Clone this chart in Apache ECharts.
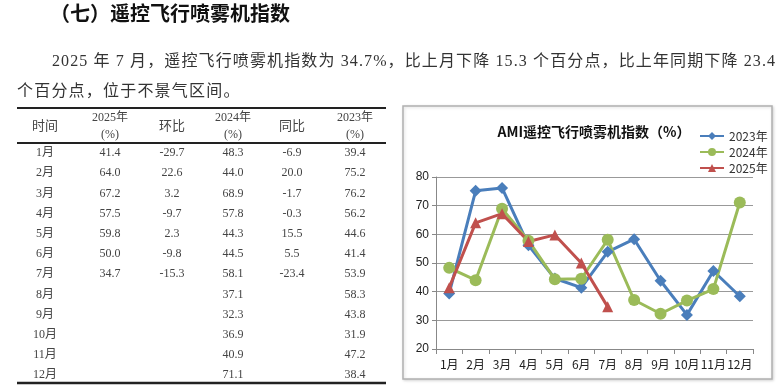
<!DOCTYPE html>
<html><head><meta charset="utf-8">
<script src="https://cdn.jsdelivr.net/npm/echarts@6/dist/echarts.min.js"></script>
<style>html,body{margin:0;padding:0;background:#fff}#c{width:780px;height:391px}</style>
</head><body><div id="c"></div>
<script>
const months = ['1月','2月','3月','4月','5月','6月','7月','8月','9月','10月','11月','12月'];
const v2023 = [39.4,75.2,76.2,56.2,44.6,41.4,53.9,58.3,43.8,31.9,47.2,38.4];
const v2024 = [48.3,44.0,68.9,57.8,44.3,44.5,58.1,37.1,32.3,36.9,40.9,71.1];
const v2025 = [41.4,64.0,67.2,57.5,59.8,50.0,34.7];
const mom = ['-29.7','22.6','3.2','-9.7','2.3','-9.8','-15.3'];
const yoy = ['-6.9','20.0','-1.7','-0.3','15.5','5.5','-23.4'];
const heading = '（七）遥控飞行喷雾机指数';
const para1 = '2025 年 7 月，遥控飞行喷雾机指数为 34.7%，比上月下降 15.3 个百分点，比上年同期下降 23.4';
const para2 = '个百分点，位于不景气区间。';
const chartTitle = 'AMI遥控飞行喷雾机指数（%）';
const seriesNames = ['2023年','2024年','2025年'];

const serif = '"Liberation Serif","Noto Sans CJK SC",serif';
const sans = '"Noto Sans CJK SC","Liberation Sans",sans-serif';

const g = [];
g.push({type:'text', left:50, top:3, style:{text:heading, font:'bold 20px "Noto Sans CJK SC"', fill:'#111'}});

const mctx = document.createElement('canvas').getContext('2d');
function spacedText(str, x0, y, font, totalWidth, extra) {
  mctx.font = font;
  const chars = Array.from(str);
  const widths = chars.map(c => mctx.measureText(c).width);
  const natural = widths.reduce((a,b)=>a+b,0);
  const gap = totalWidth != null ? (totalWidth - natural) / (chars.length - 1) : extra;
  let x = x0;
  chars.forEach((c,i) => {
    if (c !== ' ') g.push({type:'text', x:x, y:y, style:{text:c, font:font, fill:'#333', verticalAlign:'middle'}});
    x += widths[i] + gap;
  });
}
spacedText(para1, 52, 62, '16px '+serif, 723, null);
spacedText(para2, 17, 92, '16px '+serif, null, 1.2);

const tl = (y,w) => g.push({type:'line', shape:{x1:17,y1:y,x2:386,y2:y}, style:{stroke:'#222', lineWidth:w}});
tl(108,2); tl(143,2); tl(383,2.5);
const colX = [45,110,172,233,292,355];
const cell = (x,y,t,size) => g.push({type:'text', x:x, y:y, style:{text:t, font:(size||12)+'px '+serif, fill:'#444', align:'center', verticalAlign:'middle'}});
cell(colX[0],127,'时间',13);
cell(colX[1],118,'2025年'); cell(colX[1],135,'(%)');
cell(colX[2],127,'环比',13);
cell(colX[3],118,'2024年'); cell(colX[3],135,'(%)');
cell(colX[4],127,'同比',13);
cell(colX[5],118,'2023年'); cell(colX[5],135,'(%)');
months.forEach((m,i)=>{
  const y = 153 + i*20.2;
  cell(colX[0],y,m);
  if (i < v2025.length) { cell(colX[1],y,v2025[i].toFixed(1)); cell(colX[2],y,mom[i]); cell(colX[4],y,yoy[i]); }
  cell(colX[3],y,v2024[i].toFixed(1));
  cell(colX[5],y,v2023[i].toFixed(1));
});

g.push({type:'rect', shape:{x:403,y:106,width:369,height:273}, style:{fill:'#fff', stroke:'#b0b0b0', lineWidth:1.5, shadowBlur:3, shadowColor:'rgba(0,0,0,0.15)', shadowOffsetX:1, shadowOffsetY:1}, z:-1});
g.push({type:'text', x:594, y:132, style:{text:chartTitle, font:'bold 14px '+sans, fill:'#111', align:'center', verticalAlign:'middle'}});

const colors = ['#4a7ebb','#9bbb59','#c0504d'];
const symbols = ['diamond','circle','triangle'];
const symSizes = [12,12,11];
const datas = [v2023,v2024,v2025];

const chart = echarts.init(document.getElementById('c'));
chart.setOption({
  animation:false,
  graphic: g,
  legend: {orient:'vertical', left:694, top:125, itemWidth:24, itemHeight:10, itemGap:4,
    textStyle:{fontSize:12, color:'#333', fontFamily:sans}, data:seriesNames},
  grid: {left:436, right:27, top:177, bottom:42, containLabel:false},
  xAxis: {type:'category', data:months, boundaryGap:true,
    axisLine:{lineStyle:{color:'#888'}}, axisTick:{show:true, length:5, lineStyle:{color:'#888'}},
    axisLabel:{interval:0, color:'#222', fontSize:12, fontFamily:sans, margin:9}},
  yAxis: {type:'value', min:20, max:80, interval:10,
    axisLine:{show:true, lineStyle:{color:'#888'}}, axisTick:{show:true, length:4, lineStyle:{color:'#888'}},
    splitLine:{lineStyle:{color:'#999'}},
    axisLabel:{color:'#222', fontSize:12, fontFamily:'"Liberation Sans",sans-serif', margin:7}},
  series: datas.map((d,i)=>({name:seriesNames[i], type:'line', data:d, color:colors[i],
    symbol:symbols[i], symbolSize:symSizes[i], showAllSymbol:true,
    lineStyle:{width:3, color:colors[i]}, itemStyle:{color:colors[i]}}))
});
</script></body></html>
